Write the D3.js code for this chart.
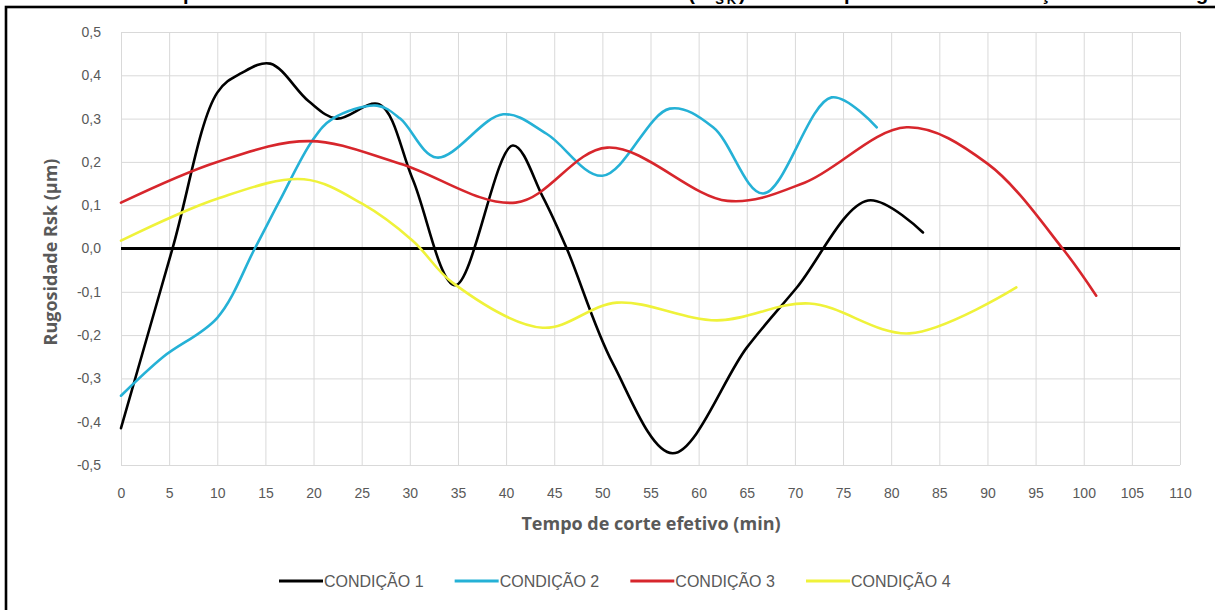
<!DOCTYPE html>
<html><head><meta charset="utf-8">
<script src="https://cdn.jsdelivr.net/npm/d3@7/dist/d3.min.js"></script>
<style>body{margin:0;background:#fff} svg{display:block}</style>
</head><body><svg id="c" width="1215" height="610"></svg>
<script>
// ---- data ----
const seriesNames = ["CONDIÇÃO 1", "CONDIÇÃO 2", "CONDIÇÃO 3", "CONDIÇÃO 4"];
const seriesColors = ["#000000", "#25b1d6", "#d7262c", "#eff23a"];
const c1x = [0, 5.35, 10, 12.5, 15.5, 19.5, 22.4, 26.8, 30.3, 34.7, 40.7, 43.8, 46.3, 51.1, 57.3, 65, 70.2, 77.6, 83.3];
const c1y = [-0.415, 0.0, 0.36, 0.405, 0.427, 0.34, 0.30, 0.333, 0.16, -0.085, 0.238, 0.12, 0.0, -0.266, -0.473, -0.229, -0.09, 0.111, 0.037];
const c2x = [0, 4.4, 10, 13.9, 16.5, 19.9, 22, 26.6, 29, 32.8, 39.7, 44.2, 50, 57, 61.5, 66.7, 73.8, 78.5];
const c2y = [-0.34, -0.25, -0.16, 0.0, 0.111, 0.25, 0.30, 0.33, 0.30, 0.21, 0.31, 0.265, 0.168, 0.323, 0.28, 0.127, 0.349, 0.28];
const c3x = [0, 10, 19.6, 29, 41, 50.5, 63, 71, 81.6, 90, 97.8, 101.3];
const c3y = [0.106, 0.2, 0.248, 0.196, 0.106, 0.233, 0.11, 0.152, 0.28, 0.196, 0.0, -0.109];
const c4x = [0, 10, 19, 25, 30.3, 34.5, 43.8, 51.5, 61.9, 71.5, 81.9, 93];
const c4y = [0.018, 0.115, 0.16, 0.104, 0.018, -0.08, -0.183, -0.125, -0.166, -0.127, -0.196, -0.09];
const xTicks = d3.range(0, 111, 5);
const yTicks = d3.range(-5, 6).map(v => v / 10);
const xTitle = "Tempo de corte efetivo (min)";
const yTitle = "Rugosidade Rsk (µm)";
const titleA = "Gráfico 6 – Comportamento do coeficiente de assimetria (R";
const titleSub = "SK";
const titleB = ") obtido para cada condição de usinagem";

// ---- layout ----
const svg = d3.select("#c");
const L = 121, R = 1180, T = 32, B = 465;
const x = d3.scaleLinear().domain([0, 110]).range([L, R]);
const y = d3.scaleLinear().domain([-0.5, 0.5]).range([B, T]);
const fmt = v => (v < 0 ? "-" : "") + d3.format(".1f")(Math.abs(v)).replace(".", ",");
const grey = "#595959";

// outer border
svg.append("rect").attr("x", 6).attr("y", 7).attr("width", 1400).attr("height", 800)
  .attr("fill", "#fff").attr("stroke", "#000").attr("stroke-width", 2.6);

// cut-off title (only descenders visible, as in the reference)
const tt = svg.append("text").attr("y", 0).attr("font-family", "Liberation Sans, Arial, sans-serif")
  .attr("font-weight", "bold").attr("font-size", 20).attr("fill", "#000");
tt.append("tspan").text(titleA);
tt.append("tspan").attr("font-size", 13).attr("dy", 4).text(titleSub);
tt.append("tspan").attr("dy", -4).text(titleB);
(function fitTitle() {
  const node = tt.node();
  const full = titleA + titleSub + titleB;
  const ip = full.indexOf("p");
  const ig = full.lastIndexOf("g");
  const px = node.getStartPositionOfChar(ip).x;
  const gx = node.getStartPositionOfChar(ig).x;
  const extra = ((1196 - 183) - (gx - px)) / (ig - ip);
  tt.attr("letter-spacing", extra);
  const px2 = node.getStartPositionOfChar(ip).x;
  tt.attr("x", 183 - px2);
})();

// axes with gridlines
const yAxis = d3.axisLeft(y).tickValues(yTicks).tickSize(-(R - L)).tickPadding(20).tickFormat(fmt);
const gy = svg.append("g").attr("transform", `translate(${L},0)`).call(yAxis);
const xAxis = d3.axisBottom(x).tickValues(xTicks).tickSize(-(B - T)).tickPadding(23).tickFormat(d3.format("d"));
const gx = svg.append("g").attr("transform", `translate(0,${B})`).call(xAxis);
[gx, gy].forEach(g => {
  g.select(".domain").remove();
  g.selectAll(".tick line").attr("stroke", "#d9d9d9").attr("stroke-width", 1);
  g.selectAll(".tick text").attr("fill", grey).attr("font-size", 14)
    .attr("font-family", "Liberation Sans, Arial, sans-serif");
});

// zero line
svg.append("line").attr("x1", x(0)).attr("x2", x(110)).attr("y1", y(0)).attr("y2", y(0))
  .attr("stroke", "#000").attr("stroke-width", 3);

// series
const series = [[c1x, c1y], [c2x, c2y], [c3x, c3y], [c4x, c4y]];
const line = d3.line().x(d => x(d[0])).y(d => y(d[1])).curve(d3.curveCatmullRom.alpha(0.5));
series.forEach(([xs, ys], i) => {
  svg.append("path").datum(xs.map((v, j) => [v, ys[j]]))
    .attr("d", line).attr("fill", "none").attr("stroke", seriesColors[i])
    .attr("stroke-width", 2.6).attr("stroke-linejoin", "round").attr("stroke-linecap", "round");
});

// axis titles
svg.append("text").attr("x", 651).attr("y", 530).attr("text-anchor", "middle")
  .attr("font-family", "Open Sans, Liberation Sans, sans-serif").attr("font-weight", "bold")
  .attr("font-size", 18).attr("fill", grey).text(xTitle);
svg.append("text").attr("transform", "translate(57,252) rotate(-90)").attr("text-anchor", "middle")
  .attr("font-family", "Open Sans, Liberation Sans, sans-serif").attr("font-weight", "bold")
  .attr("font-size", 18).attr("fill", grey).text(yTitle);

// legend
const legX = d3.scalePoint().domain(seriesNames).range([279, 806]);
const lg = svg.append("g");
seriesNames.forEach((n, i) => {
  const lx = legX(n);
  lg.append("line").attr("x1", lx).attr("x2", lx + 44).attr("y1", 581).attr("y2", 581)
    .attr("stroke", seriesColors[i]).attr("stroke-width", 3);
  lg.append("text").attr("x", lx + 45).attr("y", 581).attr("dy", "0.36em")
    .attr("font-family", "Liberation Sans Narrow, Liberation Sans, sans-serif")
    .attr("font-size", 16).attr("fill", grey).text(n);
});
</script></body></html>
